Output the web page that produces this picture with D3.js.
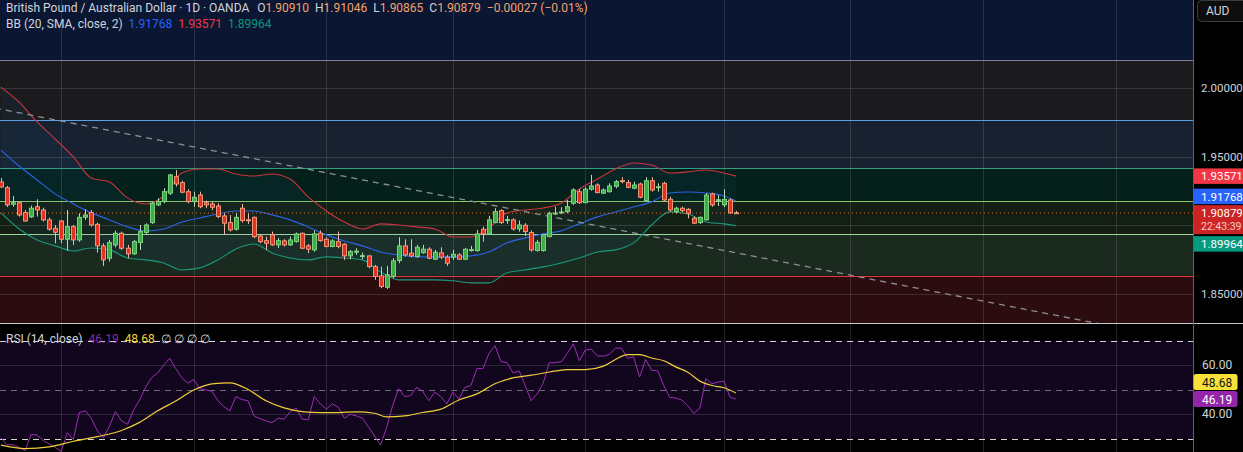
<!DOCTYPE html>
<html>
<head>
<meta charset="utf-8">
<script src="https://cdn.jsdelivr.net/npm/d3@7"></script>
<style>
  body { margin: 0; background: #000; overflow: hidden; }
  text { font-family: Roboto, "Noto Sans", sans-serif; }
</style>
</head>
<body>
<svg id="chart" width="1243" height="452"></svg>
<script>
// ---- data ----
var opens = [1.9315,1.9273,1.9153,1.9164,1.9092,1.9061,1.9135,1.9111,1.9039,1.8978,
  1.9031,1.8898,1.8990,1.8893,1.9058,1.9092,1.9007,1.8850,1.8760,1.8857,
  1.8942,1.8833,1.8792,1.8874,1.8947,1.9019,1.9148,1.9172,1.9233,1.9353,
  1.9310,1.9244,1.9172,1.9220,1.9164,1.9155,1.9140,1.9068,1.9019,1.8971,
  1.9124,1.9040,1.9058,1.8922,1.8888,1.8930,1.8857,1.8886,1.8857,1.8881,
  1.8942,1.8850,1.8821,1.8942,1.8898,1.8845,1.8881,1.8862,1.8777,1.8804,
  1.8775,1.8777,1.8699,1.8632,1.8549,1.8627,1.8743,1.8850,1.8797,1.8772,
  1.8801,1.8826,1.8753,1.8799,1.8768,1.8768,1.8784,1.8753,1.8818,1.8816,
  1.8971,1.8937,1.9019,1.9106,1.9036,1.9039,1.8973,1.9000,1.8947,1.8816,
  1.8816,1.8917,1.9085,1.9090,1.9099,1.9160,1.9244,1.9164,1.9262,1.9293,
  1.9233,1.9244,1.9283,1.9324,1.9310,1.9269,1.9300,1.9179,1.9324,1.9276,
  1.9305,1.9189,1.9099,1.9124,1.9116,1.9051,1.9019,1.9039,1.9228,1.9182,
  1.9148,1.9184,1.90910];
var highs = [1.9344,1.9286,1.9213,1.9171,1.9111,1.9143,1.9189,1.9128,1.9056,1.9002,
  1.9039,1.9111,1.9002,1.9087,1.9116,1.9111,1.9019,1.8869,1.8893,1.8961,
  1.8954,1.8857,1.8893,1.9002,1.9014,1.9172,1.9196,1.9269,1.9373,1.9402,
  1.9324,1.9262,1.9244,1.9244,1.9179,1.9171,1.9160,1.9087,1.9075,1.9087,
  1.9155,1.9087,1.9063,1.8930,1.8917,1.8954,1.8908,1.8898,1.8917,1.8947,
  1.8947,1.8864,1.8961,1.8961,1.8913,1.8898,1.8954,1.8869,1.8821,1.8833,
  1.8801,1.8784,1.8712,1.8699,1.8704,1.8760,1.8913,1.8898,1.8898,1.8857,
  1.8857,1.8840,1.8821,1.8840,1.8784,1.8821,1.8797,1.8833,1.8850,1.8966,
  1.8990,1.9068,1.9124,1.9116,1.9068,1.9051,1.9034,1.9015,1.8961,1.8893,
  1.8937,1.9099,1.9135,1.9131,1.9184,1.9269,1.9262,1.9276,1.9366,1.9305,
  1.9269,1.9305,1.9329,1.9349,1.9329,1.9317,1.9310,1.9349,1.9349,1.9305,
  1.9317,1.9208,1.9135,1.9135,1.9124,1.9063,1.9063,1.9233,1.9237,1.9220,
  1.9262,1.9196,1.91046];
var lows = [1.9271,1.9133,1.9135,1.9063,1.9027,1.9053,1.9063,1.9027,1.8961,1.8869,
  1.8869,1.8816,1.8857,1.8881,1.9039,1.8990,1.8801,1.8704,1.8736,1.8840,
  1.8821,1.8760,1.8784,1.8821,1.8937,1.9010,1.9140,1.9160,1.9220,1.9281,
  1.9233,1.9160,1.9135,1.9124,1.9124,1.9111,1.9051,1.8930,1.8954,1.8961,
  1.9019,1.9010,1.8905,1.8869,1.8821,1.8850,1.8835,1.8845,1.8850,1.8874,
  1.8826,1.8797,1.8808,1.8881,1.8840,1.8840,1.8833,1.8748,1.8753,1.8784,
  1.8753,1.8687,1.8603,1.8542,1.8537,1.8615,1.8724,1.8772,1.8767,1.8764,
  1.8792,1.8753,1.8748,1.8755,1.8704,1.8748,1.8748,1.8748,1.8808,1.8808,
  1.8881,1.8930,1.9015,1.9010,1.9010,1.8961,1.8954,1.8922,1.8808,1.8808,
  1.8808,1.8913,1.9075,1.9082,1.9087,1.9148,1.9155,1.9160,1.9252,1.9233,
  1.9228,1.9237,1.9269,1.9305,1.9269,1.9262,1.9196,1.9172,1.9244,1.9244,
  1.9172,1.9099,1.9087,1.9094,1.9051,1.9010,1.9010,1.9034,1.9135,1.9140,
  1.9131,1.9082,1.90865];
var closes = [1.9278,1.9148,1.9164,1.9075,1.9031,1.9124,1.9111,1.9039,1.8971,1.8949,
  1.8898,1.8990,1.8893,1.9058,1.9075,1.9002,1.8850,1.8748,1.8874,1.8942,
  1.8833,1.8792,1.8881,1.8954,1.9002,1.9160,1.9172,1.9244,1.9366,1.9300,
  1.9240,1.9172,1.9204,1.9135,1.9148,1.9131,1.9063,1.9015,1.8966,1.9058,
  1.9034,1.9039,1.8917,1.8881,1.8869,1.8857,1.8888,1.8857,1.8893,1.8937,
  1.8833,1.8826,1.8937,1.8888,1.8845,1.8886,1.8845,1.8777,1.8808,1.8812,
  1.8779,1.8699,1.8627,1.8554,1.8639,1.8741,1.8850,1.8784,1.8777,1.8840,
  1.8826,1.8760,1.8804,1.8768,1.8724,1.8789,1.8753,1.8826,1.8823,1.8937,
  1.8937,1.9039,1.9099,1.9019,1.9041,1.8973,1.9002,1.8954,1.8821,1.8874,
  1.8930,1.9087,1.9089,1.9097,1.9135,1.9257,1.9164,1.9262,1.9286,1.9237,
  1.9257,1.9286,1.9317,1.9320,1.9276,1.9293,1.9204,1.9324,1.9257,1.9280,
  1.9184,1.9111,1.9124,1.9106,1.9087,1.9015,1.9058,1.9220,1.9148,1.9186,
  1.9189,1.90906,1.90879];

// Bollinger bands, sampled every 3 bars
var bbIdx = [0,3,6,9,12,15,18,21,24,27,30,33,36,39,42,45,48,51,54,57,60,63,66,69,72,75,78,81,84,87,90,93,96,99,102,105,108,111,114,117,120,122];
var bbUpper = [2.0005,1.9896,1.9751,1.9627,1.9497,1.9344,1.9315,1.9199,1.9155,1.9213,1.9380,1.9409,1.9409,1.9373,1.9358,1.9373,1.9336,1.9206,1.9104,1.9024,1.8973,1.9010,1.9002,1.8988,1.8973,1.8915,1.8915,1.8981,1.9090,1.9111,1.9126,1.9162,1.9264,1.9336,1.9409,1.9453,1.9438,1.9380,1.9388,1.9402,1.9380,1.93571];
var bbMiddle = [1.9547,1.9431,1.9329,1.9228,1.9155,1.9090,1.9039,1.8988,1.8959,1.8973,1.9024,1.9053,1.9082,1.9104,1.9104,1.9075,1.9039,1.8988,1.8930,1.8886,1.8850,1.8806,1.8784,1.8770,1.8770,1.8770,1.8777,1.8806,1.8872,1.8908,1.8937,1.8959,1.9010,1.9061,1.9097,1.9133,1.9170,1.9235,1.9242,1.9235,1.9213,1.91768];
var bbLower = [1.9090,1.8973,1.8893,1.8850,1.8813,1.8835,1.8821,1.8762,1.8748,1.8726,1.8675,1.8690,1.8748,1.8828,1.8864,1.8799,1.8762,1.8748,1.8770,1.8762,1.8748,1.8661,1.8603,1.8603,1.8603,1.8596,1.8581,1.8581,1.8654,1.8675,1.8697,1.8726,1.8762,1.8806,1.8821,1.8872,1.9002,1.9097,1.9082,1.9024,1.9010,1.89964];

var rsi = [30.4,27.6,27.6,26.5,25.2,31.8,31.5,29.3,27.9,26.5,
  24.9,32.5,29.7,40.7,41.4,38.4,33.2,30.4,35.2,41.1,
  37.3,35.9,41.7,45.8,51.0,54.9,56.8,60.0,62.8,58.6,
  54.9,52.7,54.1,50.4,49.9,49.4,45.5,43.1,41.4,47.2,
  46.0,45.5,39.3,38.2,37.3,36.6,38.4,38.0,41.1,42.5,
  38.0,37.7,47.2,44.2,42.1,44.2,42.8,38.4,40.0,39.3,
  38.4,34.8,31.1,27.4,34.6,43.5,50.4,47.2,47.6,51.0,
  49.4,45.5,49.0,47.2,44.2,49.0,46.2,51.0,51.7,58.6,
  58.6,64.8,67.9,61.4,61.0,56.8,57.7,51.7,45.5,48.3,
  52.7,61.0,61.0,61.4,64.8,68.7,61.8,66.2,66.5,63.7,
  63.7,64.4,66.9,66.9,62.8,63.4,55.2,62.3,57.9,57.7,
  51.7,46.9,46.6,45.8,43.5,40.3,42.5,54.5,52.4,53.1,
  53.5,46.9,46.19];
var rsiMaIdx = [0,4,8,12,16,20,23,26,29,32,35,38,41,44,47,50,53,56,59,62,64,67,70,73,76,79,82,85,88,91,94,97,100,102,104,106,108,110,112,114,116,118,120,122];
var rsiMa = [27.4,26.0,26.7,29.0,30.9,33.4,36.7,41.4,45.4,49.9,52.4,52.8,50.1,45.5,42.6,41.1,40.7,40.7,41.0,40.4,38.9,39.3,40.7,42.1,45.8,48.3,52.4,54.8,55.9,57.2,58.2,58.2,59.6,62.3,64.3,64.3,62.9,61.8,59.3,57.1,53.5,51.7,50.8,48.68];

// horizontal zones drawn on the chart (price borders, top to bottom)
var zoneLevels = [2.0201, 1.9765, 1.9414, 1.9177, 1.8935, 1.8632];
var trendIdx = [-1, 200];
var trendPrice = [1.9852, 1.8132];
var priceTicks = [2.0, 1.95, 1.85];
var gridPrices = [2.0, 1.95, 1.90, 1.85];
var monthIdx = [10, 32, 54, 75, 97, 120, 141, 163, 185];
var rsiTicks = [60, 40];
var rsiBands = [70, 50, 30];

// ---- styles ----
var zoneFills = ['#0b1632', '#1b1b1e', '#17212f', '#05201b', '#141f14', '#1a2a1f', '#2b0d10'];
var zoneLines = ['#7d8394', '#5d9fe0', '#2f9f83', '#8cc76a', '#9fd59a', '#e0393a'];

var W = 1243, H = 452, axisX = 1193, mainBottom = 323, rsiTop = 324;
var svg = d3.select('#chart');
var f5 = d3.format('.5f'), f2 = d3.format('.2f');
var axFont = 11.5, axTextX = 1201;

var x = d3.scaleLinear().domain([0, 122]).range([1, 736]);
var y = d3.scaleLinear().domain([1.85, 1.95]).range([294, 156.5]);
var yr = d3.scaleLinear().domain([30, 70]).range([438.8, 340.6]);

svg.append('rect').attr('width', W).attr('height', H).attr('fill', '#000');

var defs = svg.append('defs');
defs.append('clipPath').attr('id', 'clipMain').append('rect')
  .attr('x', 0).attr('y', 0).attr('width', axisX).attr('height', mainBottom);
defs.append('clipPath').attr('id', 'clipRsi').append('rect')
  .attr('x', 0).attr('y', rsiTop).attr('width', axisX).attr('height', H - rsiTop);

var main = svg.append('g').attr('clip-path', 'url(#clipMain)');

// zones
var edges = [2.3].concat(zoneLevels).concat([1.7]);
main.selectAll('rect.zone').data(zoneFills).enter().append('rect')
  .attr('x', 0).attr('width', axisX)
  .attr('y', (d, i) => y(edges[i]))
  .attr('height', (d, i) => y(edges[i + 1]) - y(edges[i]))
  .attr('fill', d => d);

// grid
main.selectAll('line.hg').data(gridPrices).enter().append('line')
  .attr('x1', 0).attr('x2', axisX)
  .attr('y1', d => Math.round(y(d)) + 0.5).attr('y2', d => Math.round(y(d)) + 0.5)
  .attr('stroke', 'rgba(255,255,255,0.12)');
main.selectAll('line.vg').data(monthIdx).enter().append('line')
  .attr('x1', d => Math.round(x(d)) + 0.5).attr('x2', d => Math.round(x(d)) + 0.5)
  .attr('y1', 0).attr('y2', mainBottom)
  .attr('stroke', 'rgba(255,255,255,0.12)');

// zone borders
main.selectAll('line.zl').data(zoneLevels).enter().append('line')
  .attr('x1', 0).attr('x2', axisX)
  .attr('y1', d => Math.round(y(d)) + 0.5).attr('y2', d => Math.round(y(d)) + 0.5)
  .attr('stroke', (d, i) => zoneLines[i]).attr('stroke-width', 1.2);

// Bollinger fill + lines
var bbPts = bbIdx.map((d, i) => ({ i: d, u: bbUpper[i], m: bbMiddle[i], l: bbLower[i] }));
main.append('path').datum(bbPts)
  .attr('d', d3.area().x(d => x(d.i)).y0(d => y(d.u)).y1(d => y(d.l)).curve(d3.curveMonotoneX))
  .attr('fill', 'rgba(33,150,243,0.05)');
[['u', '#c9343f'], ['m', '#2a63e6'], ['l', '#1a9a7c']].forEach(function (s) {
  main.append('path').datum(bbPts)
    .attr('d', d3.line().x(d => x(d.i)).y(d => y(d[s[0]])).curve(d3.curveMonotoneX))
    .attr('fill', 'none').attr('stroke', s[1]).attr('stroke-width', 1.1);
});

// trend line
main.append('line')
  .attr('x1', x(trendIdx[0])).attr('y1', y(trendPrice[0]))
  .attr('x2', x(trendIdx[1])).attr('y2', y(trendPrice[1]))
  .attr('stroke', '#8b8f99').attr('stroke-width', 1.3).attr('stroke-dasharray', '6,5');

// current price line
main.append('line')
  .attr('x1', 0).attr('x2', axisX)
  .attr('y1', y(closes[closes.length - 1])).attr('y2', y(closes[closes.length - 1]))
  .attr('stroke', '#e0662c').attr('stroke-dasharray', '1,3');

// candles
var bars = main.append('g').selectAll('g').data(d3.range(opens.length)).enter().append('g');
var up = i => closes[i] >= opens[i];
bars.append('line')
  .attr('x1', i => Math.round(x(i)) + 0.5).attr('x2', i => Math.round(x(i)) + 0.5)
  .attr('y1', i => y(highs[i])).attr('y2', i => y(lows[i]))
  .attr('stroke', i => up(i) ? '#b9dcb6' : '#f0b8a4');
bars.append('rect')
  .attr('x', i => Math.round(x(i)) - 1.5).attr('width', 4)
  .attr('y', i => y(Math.max(opens[i], closes[i])))
  .attr('height', i => Math.max(1, Math.abs(y(opens[i]) - y(closes[i]))))
  .attr('fill', i => up(i) ? '#3fae47' : '#e3321f')
  .attr('stroke', i => up(i) ? '#82d986' : '#f5a183').attr('stroke-width', 0.9);

// ---- RSI pane ----
var pane = svg.append('g').attr('clip-path', 'url(#clipRsi)');
pane.append('rect').attr('x', 0).attr('width', axisX)
  .attr('y', yr(70)).attr('height', yr(30) - yr(70)).attr('fill', '#12061e');
pane.selectAll('line.rg').data(rsiTicks).enter().append('line')
  .attr('x1', 0).attr('x2', axisX)
  .attr('y1', d => Math.round(yr(d)) + 0.5).attr('y2', d => Math.round(yr(d)) + 0.5)
  .attr('stroke', 'rgba(255,255,255,0.13)');
pane.selectAll('line.rv').data(monthIdx).enter().append('line')
  .attr('x1', d => Math.round(x(d)) + 0.5).attr('x2', d => Math.round(x(d)) + 0.5)
  .attr('y1', rsiTop).attr('y2', H)
  .attr('stroke', 'rgba(255,255,255,0.13)');
pane.selectAll('line.rb').data(rsiBands).enter().append('line')
  .attr('x1', 0).attr('x2', axisX)
  .attr('y1', d => Math.round(yr(d)) + 0.5).attr('y2', d => Math.round(yr(d)) + 0.5)
  .attr('stroke', d => d == 50 ? '#6f6a7c' : '#d4d4d8')
  .attr('stroke-dasharray', '6,5');
pane.append('path').datum(rsi)
  .attr('d', d3.line().x((d, i) => x(i)).y(d => yr(d)))
  .attr('fill', 'none').attr('stroke', '#9b2fb4').attr('stroke-width', 1);
pane.append('path').datum(rsiMaIdx)
  .attr('d', d3.line().x(d => x(d)).y((d, i) => yr(rsiMa[i])).curve(d3.curveMonotoneX))
  .attr('fill', 'none').attr('stroke', '#f0cf3a').attr('stroke-width', 1.2);

// separators
svg.append('line').attr('x1', 0).attr('x2', W).attr('y1', mainBottom + 0.5).attr('y2', mainBottom + 0.5)
  .attr('stroke', '#c9c9cc');
svg.append('line').attr('x1', axisX + 0.5).attr('x2', axisX + 0.5).attr('y1', 0).attr('y2', H)
  .attr('stroke', '#5f626c');

// ---- price axis ----
svg.selectAll('text.pt').data(priceTicks).enter().append('text')
  .attr('x', axTextX).attr('y', d => y(d) + 4.2)
  .attr('font-size', axFont).attr('fill', '#d1d4dc').text(d => f5(d));
svg.selectAll('text.rt').data(rsiTicks).enter().append('text')
  .attr('x', axTextX + 1).attr('y', d => yr(d) + 4.2)
  .attr('font-size', axFont + 0.5).attr('fill', '#d1d4dc').text(d => f2(d));

// AUD button
svg.append('rect').attr('x', 1197.5).attr('y', 0.5).attr('width', 52).attr('height', 21).attr('rx', 4)
  .attr('fill', '#0d0d0d').attr('stroke', '#3a3b40');
svg.append('text').attr('x', 1206).attr('y', 15).attr('font-size', 12).attr('fill', '#d1d4dc').text('AUD');

// value tags
var last = closes.length - 1;
var lastBB = bbIdx.length - 1;
var th = 15.5;
function tag(yc, h, fill, label) {
  svg.append('rect').attr('x', axisX + 1).attr('y', yc - h / 2).attr('width', 60).attr('height', h)
    .attr('fill', fill);
  svg.append('text').attr('x', axTextX).attr('y', yc + 4.2)
    .attr('font-size', axFont).attr('fill', '#fff').text(label);
}
var yClose = y(closes[last]);
var closeTop = yClose - 8, closeH = 29;
tag(y(bbUpper[lastBB]), th, '#f23645', f5(bbUpper[lastBB]));
tag(Math.min(y(bbMiddle[lastBB]), closeTop - 1 - th / 2), th, '#2962ff', f5(bbMiddle[lastBB]));
svg.append('rect').attr('x', axisX + 1).attr('y', closeTop).attr('width', 60).attr('height', closeH).attr('fill', '#cc2424');
svg.append('text').attr('x', axTextX).attr('y', closeTop + 12).attr('font-size', axFont).attr('fill', '#fff').text(f5(closes[last]));
svg.append('text').attr('x', axTextX).attr('y', closeTop + 25).attr('font-size', 10.5).attr('fill', '#f6caca').text('22:43:39');
tag(Math.max(y(bbLower[lastBB]), closeTop + closeH + 2 + th / 2), th, '#089981', f5(bbLower[lastBB]));

// RSI tags
var yRsi = yr(rsi[rsi.length - 1]);
var rh = 16;
svg.append('rect').attr('x', axisX + 0.5).attr('y', yRsi - rh / 2).attr('width', 44).attr('height', rh).attr('rx', 2.5).attr('fill', '#9425a8');
svg.append('text').attr('x', axTextX + 1).attr('y', yRsi + 4.5).attr('font-size', 12).attr('fill', '#fff').text(f2(rsi[rsi.length - 1]));
var yMa = Math.min(yr(rsiMa[rsiMa.length - 1]), yRsi - rh - 1);
svg.append('rect').attr('x', axisX + 0.5).attr('y', yMa - rh / 2).attr('width', 44).attr('height', rh).attr('rx', 2.5).attr('fill', '#f7e23a');
svg.append('text').attr('x', axTextX + 1).attr('y', yMa + 4.5).attr('font-size', 12).attr('fill', '#111').text(f2(rsiMa[rsiMa.length - 1]));

// ---- legends ----
var orange = '#f4a26c';
var h1 = svg.append('text').attr('x', 6).attr('y', 12).attr('font-size', 12).attr('fill', '#d1d4dc');
h1.append('tspan').text('British Pound / Australian Dollar · 1D · OANDA');
var ohlc = [['O', opens[last]], ['H', highs[last]], ['L', lows[last]], ['C', closes[last]]];
ohlc.forEach(function (d, k) {
  h1.append('tspan').attr('dx', k == 0 ? 8 : 6).text(d[0]);
  h1.append('tspan').attr('fill', orange).text(f5(d[1]));
});
var chg = closes[last] - closes[last - 1];
h1.append('tspan').attr('dx', 6).attr('fill', orange)
  .text(d3.format('.5f')(chg) + ' (' + d3.format('.2%')(chg / closes[last - 1]) + ')');

var h2 = svg.append('text').attr('x', 6).attr('y', 28).attr('font-size', 12).attr('fill', '#d1d4dc');
h2.append('tspan').text('BB (20, SMA, close, 2)');
h2.append('tspan').attr('dx', 6).attr('fill', '#2962ff').text(f5(bbMiddle[lastBB]));
h2.append('tspan').attr('dx', 6).attr('fill', '#f23645').text(f5(bbUpper[lastBB]));
h2.append('tspan').attr('dx', 6).attr('fill', '#089981').text(f5(bbLower[lastBB]));

var h3 = svg.append('text').attr('x', 6).attr('y', 343).attr('font-size', 12).attr('fill', '#d1d4dc');
h3.append('tspan').text('RSI (14, close)');
h3.append('tspan').attr('dx', 6).attr('fill', '#8e2aa3').text(f2(rsi[rsi.length - 1]));
h3.append('tspan').attr('dx', 6).attr('fill', '#f2d33c').text(f2(rsiMa[rsiMa.length - 1]));
h3.append('tspan').attr('dx', 6).text('∅  ∅  ∅  ∅');
</script>
</body>
</html>
